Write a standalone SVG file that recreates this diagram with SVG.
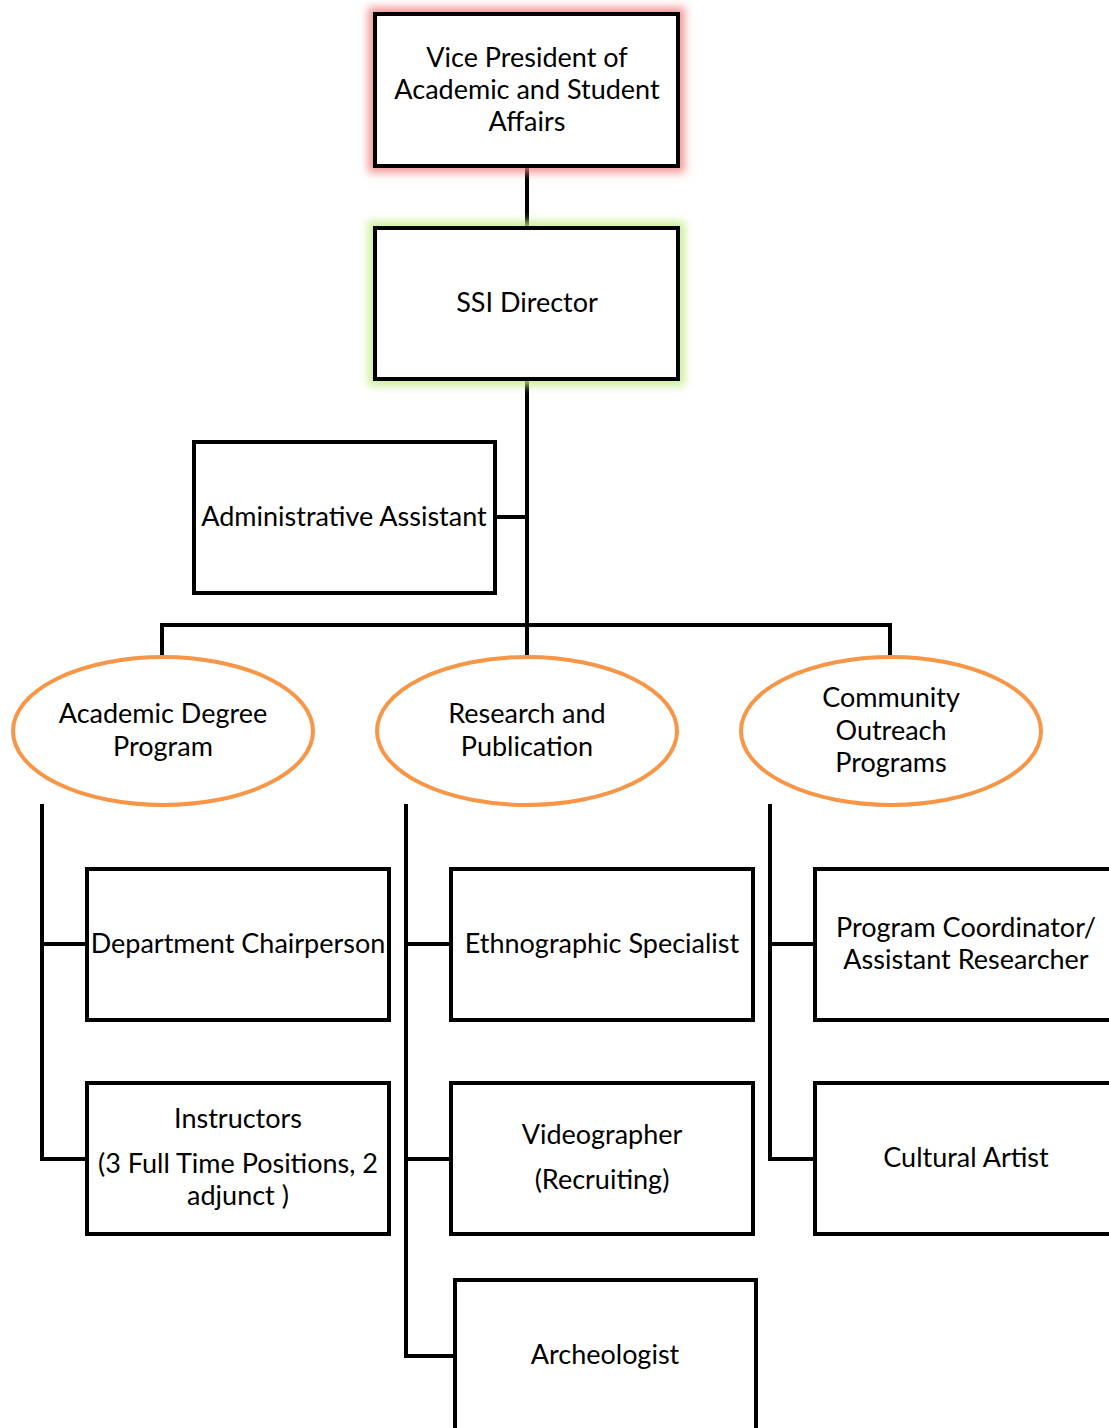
<svg xmlns="http://www.w3.org/2000/svg" width="1109" height="1428" viewBox="0 0 1109 1428">
<defs>
<style>
.box{fill:#fff;stroke:#000;stroke-width:4}
.ell{fill:#fff;stroke:#F79646;stroke-width:4}
.ln{fill:none;stroke:#000;stroke-width:4;stroke-linecap:square}
text{font-family:Lato,"Noto Sans",sans-serif;font-size:27px;fill:#000;text-anchor:middle}
</style>
<filter id="gr" x="-20%" y="-30%" width="140%" height="160%"><feMorphology in="SourceAlpha" operator="dilate" radius="5" result="d"/><feGaussianBlur in="d" stdDeviation="4" result="b"/><feFlood flood-color="#F08080" flood-opacity="0.8"/><feComposite in2="b" operator="in" result="g"/><feMerge><feMergeNode in="g"/><feMergeNode in="SourceGraphic"/></feMerge></filter>
<filter id="gg" x="-20%" y="-30%" width="140%" height="160%"><feMorphology in="SourceAlpha" operator="dilate" radius="5" result="d"/><feGaussianBlur in="d" stdDeviation="4" result="b"/><feFlood flood-color="#C5EC8C" flood-opacity="0.85"/><feComposite in2="b" operator="in" result="g"/><feMerge><feMergeNode in="g"/><feMergeNode in="SourceGraphic"/></feMerge></filter>
</defs>
<rect width="1109" height="1428" fill="#fff"/>
<g id="connectors">
<path class="ln" d="M527 166V228"/>
<path class="ln" d="M527 379V625"/>
<path class="ln" d="M495 517H527"/>
<path class="ln" d="M162 657V625H890V657"/>
<path class="ln" d="M527 625V657"/>
<path class="ln" d="M42 806V1159H87"/>
<path class="ln" d="M42 944H87"/>
<path class="ln" d="M406 806V1356H455"/>
<path class="ln" d="M406 944H451"/>
<path class="ln" d="M406 1159H451"/>
<path class="ln" d="M770 806V1159H815"/>
<path class="ln" d="M770 944H815"/>
</g>
<g id="vp" filter="url(#gr)">
<rect class="box" x="375" y="14" width="303" height="152"/>
</g>
<g id="vp-text"><text x="527" y="67">Vice President of</text><text x="527" y="99">Academic and Student</text><text x="527" y="131">Affairs</text></g>
<g id="director" filter="url(#gg)">
<rect class="box" x="375" y="228" width="303" height="151"/>
</g>
<g id="director-text"><text x="527" y="312">SSI Director</text></g>
<g id="admin"><rect class="box" x="194" y="442" width="301" height="151"/><text x="344" y="526">Administrative Assistant</text></g>
<g id="academic"><ellipse class="ell" cx="163" cy="731" rx="150" ry="74"/><text x="163" y="723">Academic Degree</text><text x="163" y="756">Program</text></g>
<g id="research"><ellipse class="ell" cx="527" cy="731" rx="150" ry="74"/><text x="527" y="723">Research and</text><text x="527" y="756">Publication</text></g>
<g id="community"><ellipse class="ell" cx="891" cy="731" rx="150" ry="74"/><text x="891" y="707">Community</text><text x="891" y="740">Outreach</text><text x="891" y="772">Programs</text></g>
<g id="chair"><rect class="box" x="87" y="869" width="302" height="151"/><text x="238" y="953">Department Chairperson</text></g>
<g id="instructors"><rect class="box" x="87" y="1083" width="302" height="151"/><text x="238" y="1128">Instructors</text><text x="238" y="1173">(3 Full Time Positions, 2</text><text x="238" y="1205">adjunct )</text></g>
<g id="ethno"><rect class="box" x="451" y="869" width="302" height="151"/><text x="602" y="953">Ethnographic Specialist</text></g>
<g id="video"><rect class="box" x="451" y="1083" width="302" height="151"/><text x="602" y="1144">Videographer</text><text x="602" y="1189">(Recruiting)</text></g>
<g id="archeo"><rect class="box" x="455" y="1280" width="301" height="160"/><text x="605" y="1364">Archeologist</text></g>
<g id="coord"><rect class="box" x="815" y="869" width="302" height="151"/><text x="966" y="937">Program Coordinator/</text><text x="966" y="969">Assistant Researcher</text></g>
<g id="artist"><rect class="box" x="815" y="1083" width="302" height="151"/><text x="966" y="1167">Cultural Artist</text></g>
</svg>
